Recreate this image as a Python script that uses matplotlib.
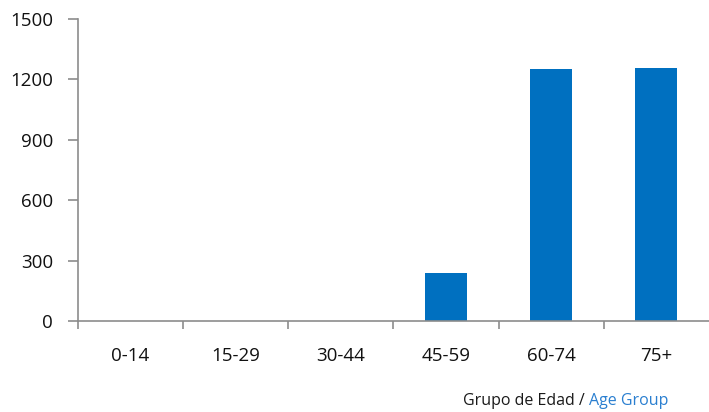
import matplotlib.pyplot as plt
import numpy as np

# Data
age_groups = ['0-14', '15-29', '30-44', '45-59', '60-74', '75+']
counts = [0, 0, 0, 238, 1250, 1255]
y_ticks = [0, 300, 600, 900, 1200, 1500]

plt.rcParams['font.family'] = ['Open Sans', 'DejaVu Sans']

fig = plt.figure(figsize=(7.09, 4.12), dpi=100)
ax = fig.add_axes([0.110, 0.221, 0.89, 0.733])

x = np.arange(len(age_groups))
ax.bar(x, counts, width=0.4, color='#0070C0', zorder=2)

ax.set_xlim(-0.5, len(age_groups) - 0.5)
ax.set_ylim(0, 1500)
ax.set_yticks(y_ticks)

# category boundaries as major ticks, labels as minor ticks at the centres
ax.set_xticks(np.arange(-0.5, len(age_groups) - 0.5, 1.0))
ax.set_xticklabels([])
ax.set_xticks(x, minor=True)
ax.set_xticklabels(age_groups, minor=True)

gray = '#8c8c8c'
for side in ['top', 'right']:
    ax.spines[side].set_visible(False)
for side in ['left', 'bottom']:
    ax.spines[side].set_color(gray)
    ax.spines[side].set_linewidth(1.2)

ax.tick_params(axis='x', which='major', direction='out', length=6, width=1.2, color=gray)
ax.tick_params(axis='x', which='minor', length=0, pad=19, labelsize=13.5, labelcolor='#111111')
ax.tick_params(axis='y', direction='out', length=7, width=1.2, color=gray, pad=11,
               labelsize=13.5, labelcolor='#111111')

# axis title in two colours, placed side by side
t1 = fig.text(463 / 709, 0.016, 'Grupo de Edad / ', fontsize=11.5, color='#1a1a1a',
              ha='left', va='baseline')
fig.canvas.draw()
bb = t1.get_window_extent()
fig.text(bb.x1 / 709, 0.016, 'Age Group', fontsize=11.5, color='#2A7FD0',
         ha='left', va='baseline')

plt.savefig('out.png', dpi=100)
